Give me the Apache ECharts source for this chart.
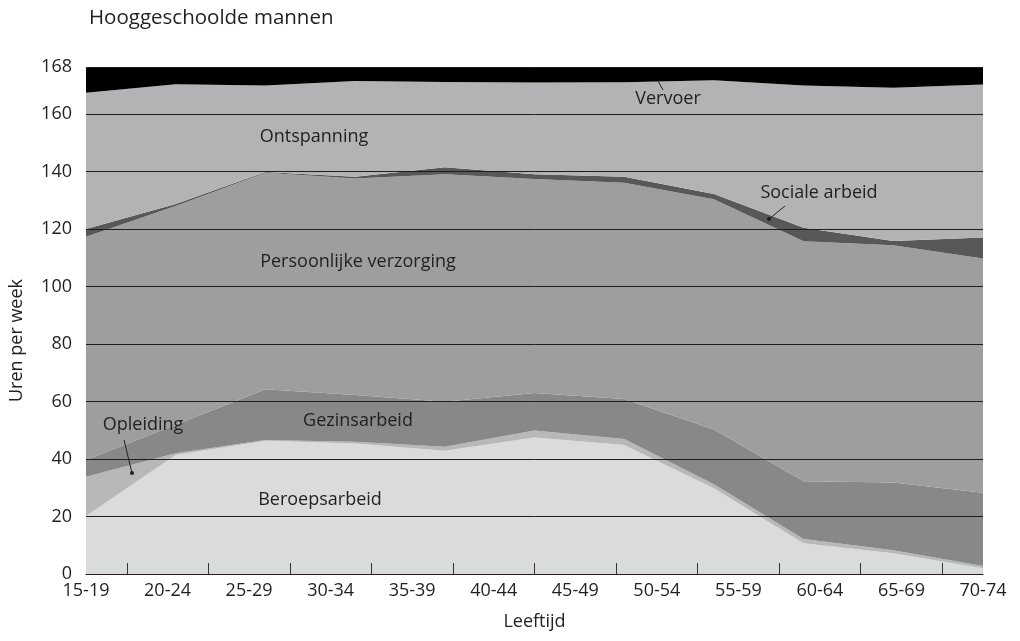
<!DOCTYPE html>
<html>
<head>
<meta charset="utf-8">
<title>Hooggeschoolde mannen</title>
<script src="https://cdn.jsdelivr.net/npm/echarts@6/dist/echarts.min.js"></script>
<style>
  html, body { margin: 0; padding: 0; background: #fff; }
  #chart { width: 1020px; height: 641px; }
</style>
</head>
<body>
<div id="chart"></div>
<script>
const ageGroups = ['15-19', '20-24', '25-29', '30-34', '35-39', '40-44', '45-49', '50-54', '55-59', '60-64', '65-69', '70-74']

// the plotted series have 11 points, spread evenly across the axis
const beroepsarbeid = [20.2, 41.4, 46.4, 45.4, 42.9, 47.5, 44.9, 29.8, 10.7, 7.2, 2.0]
const opleiding = [13.6, 0.6, 0.2, 0.6, 1.4, 2.4, 2.1, 1.4, 1.5, 1.1, 0.8]
const gezinsarbeid = [5.9, 9.9, 17.7, 16.3, 15.6, 13.1, 13.9, 19.1, 20.1, 23.5, 25.5]
const verzorging = [77.6, 76.1, 75.3, 75.3, 79.2, 74.4, 75.2, 80.1, 83.5, 82.6, 81.5]
const socialeArbeid = [2.7, 0.7, 0.3, 0.6, 2.4, 1.7, 2.1, 1.8, 4.7, 1.5, 7.3]
const ontspanning = [47.4, 41.7, 30.1, 33.3, 29.7, 31.9, 32.9, 39.6, 49.5, 53.3, 53.2]
const vervoer = [9.0, 6.0, 6.4, 4.9, 5.2, 5.4, 5.3, 4.6, 6.4, 7.2, 6.1]

const pointSlots = vervoer.map((_, i) => 'p' + i)

const yTickLabels = ['0', '20', '40', '60', '80', '100', '120', '140', '160', '168']
const yMax = 176.4

const font = '"Open Sans", "Noto Sans", sans-serif'
const ink = '#231f20'

const chart = echarts.init(document.getElementById('chart'))

function area(name, values, color) {
  return {
    name,
    type: 'line',
    xAxisIndex: 2,
    stack: 'week',
    data: values,
    showSymbol: false,
    lineStyle: { width: 0 },
    areaStyle: { color, opacity: 1 },
    itemStyle: { color },
    silent: true,
    animation: false,
  }
}

function note(text, x, y) {
  return {
    type: 'text', x, y, z: 10,
    style: { text, fill: ink, fontSize: 18, fontFamily: font, align: 'center', verticalAlign: 'middle' },
  }
}

function leader(x1, y1, x2, y2, dot) {
  const items = [{
    type: 'line', z: 10,
    shape: { x1, y1, x2, y2 },
    style: { stroke: ink, lineWidth: 1 },
  }]
  if (dot) items.push({ type: 'circle', z: 10, shape: { cx: x2, cy: y2, r: 2 }, style: { fill: ink } })
  return items
}

chart.setOption({
  backgroundColor: '#fff',
  animation: false,
  title: {
    text: 'Hooggeschoolde mannen',
    left: 89, top: 8, padding: 0,
    textStyle: { fontSize: 20.5, fontWeight: 'normal', color: ink, fontFamily: font },
  },
  grid: { left: 85, right: 37, top: 67, bottom: 67 },
  xAxis: [
    {
      type: 'category',
      data: ageGroups,
      boundaryGap: false,
      z: 5,
      name: 'Leeftijd',
      nameLocation: 'middle',
      nameGap: 39,
      nameTextStyle: { fontSize: 18, color: ink, fontFamily: font },
      axisLine: { lineStyle: { color: ink, width: 1 } },
      axisTick: { show: false },
      axisLabel: { fontSize: 18, color: ink, fontFamily: font, margin: 8, interval: 0 },
      splitLine: { show: false },
    },
    {
      // tick marks sit half-way between the age labels
      type: 'category',
      data: ageGroups.slice(1),
      boundaryGap: true,
      position: 'bottom',
      z: 5,
      axisLine: { show: false },
      axisTick: { show: true, alignWithLabel: true, inside: true, length: 11, interval: 0, lineStyle: { color: '#333', width: 1 } },
      axisLabel: { show: true, interval: 0, color: 'rgba(0,0,0,0)', fontSize: 1 },
      splitLine: { show: false },
    },
    {
      type: 'category',
      data: pointSlots,
      boundaryGap: false,
      position: 'bottom',
      show: false,
    },
  ],
  yAxis: {
    type: 'value',
    min: 0,
    max: yMax,
    interval: 20,
    z: 5,
    name: 'Uren per week',
    nameLocation: 'middle',
    nameGap: 60,
    nameTextStyle: { fontSize: 18, color: ink, fontFamily: font, padding: [0, 40, 0, 0] },
    axisLine: { show: false },
    axisTick: { show: false },
    axisLabel: {
      fontSize: 18, color: ink, fontFamily: font, margin: 14,
      formatter: (v, i) => yTickLabels[i],
    },
    splitLine: { lineStyle: { color: '#1e1e1e', width: 1 } },
  },
  series: [
    area('Beroepsarbeid', beroepsarbeid, '#dadbdd'),
    area('Opleiding', opleiding, '#b7b8ba'),
    area('Gezinsarbeid', gezinsarbeid, '#87888a'),
    area('Persoonlijke verzorging', verzorging, '#9d9ea0'),
    area('Sociale arbeid', socialeArbeid, '#58585a'),
    area('Ontspanning', ontspanning, '#b2b3b5'),
    area('Vervoer', vervoer, '#000000'),
  ],
  graphic: [
    note('Vervoer', 668, 99),
    ...leader(663, 90, 658, 81, false),
    note('Ontspanning', 314, 137),
    note('Sociale arbeid', 819, 193),
    ...leader(785, 206, 769, 219, true),
    note('Persoonlijke verzorging', 358, 262),
    note('Gezinsarbeid', 358, 421),
    note('Opleiding', 143, 425),
    ...leader(124, 440, 132, 473, true),
    note('Beroepsarbeid', 320, 500),
  ],
})
</script>
</body>
</html>
